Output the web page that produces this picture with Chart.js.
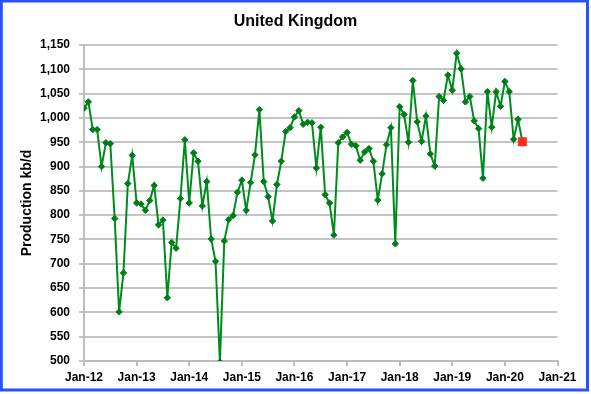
<!DOCTYPE html>
<html>
<head>
<meta charset="utf-8">
<script src="https://cdn.jsdelivr.net/npm/chart.js@4/dist/chart.umd.min.js"></script>
<style>
  html, body { margin: 0; padding: 0; background: #ffffff; }
  #wrap { position: relative; width: 591px; height: 394px; }
  canvas { display: block; }
</style>
</head>
<body>
<div id="wrap"><canvas id="c" width="591" height="394"></canvas></div>
<script>
// Month index 0 = Jan-12
const startYear = 2012;
const production = [
  1020, 1033, 976, 976, 900, 949, 947, 793, 601, 681, 865, 923,
  825, 823, 810, 830, 861, 780, 790, 630, 744, 732, 834, 955,
  825, 928, 911, 819, 869, 751, 705, 498, 747, 791, 799, 847,
  872, 810, 867, 924, 1017, 869, 838, 788, 863, 911, 972, 980,
  1002, 1015, 987, 991, 990, 897, 981, 842, 825, 759, 949, 961,
  970, 946, 943, 913, 930, 937, 911, 831, 885, 945, 980, 741,
  1023, 1007, 950, 1077, 992, 952, 1004, 926, 901, 1044, 1036, 1088,
  1057, 1133, 1101, 1033, 1044, 994, 978, 876, 1054, 981, 1054, 1024,
  1075, 1054, 956, 997, 951
];
const monthNames = ['Jan','Feb','Mar','Apr','May','Jun','Jul','Aug','Sep','Oct','Nov','Dec'];
const months = production.map((_, i) => monthNames[i % 12] + '-' + String((startYear + Math.floor(i / 12)) % 100).padStart(2, '0'));
const tickLabels = ['Jan-12','Jan-13','Jan-14','Jan-15','Jan-16','Jan-17','Jan-18','Jan-19','Jan-20','Jan-21'];
const lastIndex = production.length - 1;
const lastValue = production[lastIndex];

const mainData = production.map((v, i) => ({ x: i, y: v }));
const lastData = [{ x: lastIndex, y: lastValue }];

const borderPlugin = {
  id: 'outerBorder',
  afterDraw(chart) {
    const ctx = chart.ctx;
    ctx.save();
    ctx.strokeStyle = 'rgb(38,82,255)';
    ctx.lineWidth = 3;
    ctx.strokeRect(1.3, 1, 586.2, 389);
    ctx.restore();
  }
};

const FONT = "'Liberation Sans', Arial, Helvetica, sans-serif";

new Chart(document.getElementById('c'), {
  type: 'line',
  data: {
    datasets: [
      {
        label: 'Latest',
        data: lastData,
        showLine: false,
        pointStyle: 'rect',
        pointRadius: 6,
        pointBackgroundColor: 'rgb(255,40,30)',
        pointBorderColor: 'rgb(255,40,30)',
        pointBorderWidth: 0.5,
        order: 0
      },
      {
        label: 'UK',
        data: mainData,
        borderColor: 'rgb(0,140,28)',
        borderWidth: 2,
        pointStyle: 'rectRot',
        pointRadius: 3.2,
        pointBackgroundColor: 'rgb(0,125,25)',
        pointBorderColor: 'rgb(0,125,25)',
        pointBorderWidth: 1,
        tension: 0,
        order: 1
      }
    ]
  },
  options: {
    responsive: false,
    animation: false,
    devicePixelRatio: 1,
    layout: { padding: 0 },
    plugins: {
      legend: { display: false },
      tooltip: { enabled: false },
      title: {
        display: true,
        text: 'United Kingdom',
        color: '#000',
        font: { family: FONT, size: 16, weight: 'bold' },
        padding: { top: 12, bottom: 13.8 }
      }
    },
    scales: {
      x: {
        type: 'linear',
        min: 0,
        max: 108,
        afterFit(s) { s.height = 33; },
        afterBuildTicks(s) {
          s.ticks = tickLabels.map((_, i) => ({ value: i * 12 }));
        },
        ticks: {
          autoSkip: false,
          maxRotation: 0,
          padding: 4,
          color: '#000',
          font: { family: FONT, size: 12, weight: 'bold' },
          callback: (v) => tickLabels[Math.round(v / 12)]
        },
        grid: {
          drawOnChartArea: false,
          drawTicks: true,
          tickLength: 5,
          color: '#bdbdbd',
          lineWidth: 2
        },
        border: { display: true, color: '#bdbdbd', width: 2 }
      },
      y: {
        position: 'left',
        min: 500,
        max: 1150,
        afterFit(s) { s.width = 84; },
        ticks: {
          stepSize: 50,
          padding: 9,
          color: '#000',
          font: { family: FONT, size: 12, weight: 'bold' },
          callback: (v) => Number(v).toLocaleString('en-US')
        },
        grid: {
          color: '#c4c4c4',
          lineWidth: 2,
          tickLength: 5
        },
        border: { display: true, color: '#bdbdbd', width: 2 },
        title: {
          display: true,
          text: 'Production kb/d',
          color: '#000',
          font: { family: FONT, size: 14, weight: 'bold' },
          padding: { top: 18.5, bottom: 0 }
        }
      },
      y2: {
        position: 'right',
        display: true,
        min: 500,
        max: 1150,
        afterFit(s) { s.width = 33.5; },
        ticks: { display: false },
        grid: { display: false, drawTicks: false },
        border: { display: false }
      }
    }
  },
  plugins: [borderPlugin]
});
</script>
</body>
</html>
